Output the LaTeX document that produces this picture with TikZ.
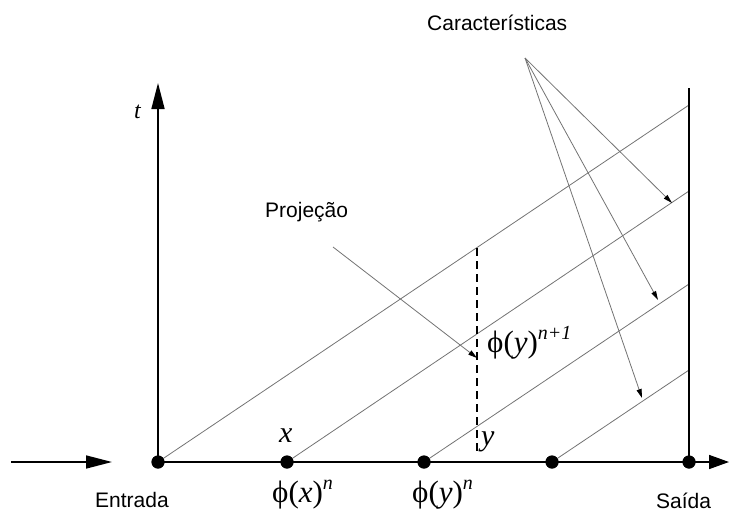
\documentclass[tikz,border=0pt]{standalone}
\usepackage{fontspec}
\setmainfont{Liberation Sans}
\newfontfamily\tms{Liberation Serif}
\usetikzlibrary{arrows.meta}
\begin{document}
\begin{tikzpicture}[x=1pt,y=-1pt,
  axisline/.style={line width=1.6pt,black},
  charline/.style={line width=0.8pt,black!55},
  bigtip/.style={-{Triangle[length=26pt,width=13pt]}},
  endtip/.style={-{Triangle[length=20pt,width=14pt]}},
  smalltip/.style={-{Triangle[length=9pt,width=5pt,color=black]}},
  dotnode/.style={circle,fill=black,inner sep=0pt,minimum size=13pt},
  lbl/.style={font=\fontsize{21}{24}\selectfont,inner sep=0pt,anchor=base west},
  mlbl/.style={font=\tms\fontsize{31}{34}\selectfont,inner sep=0pt,anchor=base west},
  vlbl/.style={font=\tms\itshape\fontsize{30}{34}\selectfont,inner sep=0pt,anchor=base west},
]
\useasboundingbox (0,0) rectangle (730,511);
\newcommand{\supr}[1]{\raisebox{13pt}{\fontsize{20}{22}\selectfont\itshape #1}}

% points on the axis
\node[dotnode] (d1) at (158,462) {};
\node[dotnode] (d2) at (287,462) {};
\node[dotnode] (d3) at (424,462) {};
\node[dotnode] (d4) at (552,462) {};
\node[dotnode] (d5) at (689,462) {};

\coordinate (inL) at (11,462);
\coordinate (inR) at (112,462);
\coordinate (outR) at (729,462);
\coordinate (ttop) at (158,83);
\coordinate (rtop) at (689,88);
\coordinate (e1) at (689,105);
\coordinate (e2) at (689,191);
\coordinate (e3) at (689,284);
\coordinate (e4) at (689,370);
\coordinate (dtop) at (477,248);
\coordinate (dbot) at (477,455);
\coordinate (po) at (333,247);
\coordinate (pt) at (477,358);
\coordinate (co) at (525,58);
\coordinate (c1) at (672,203);
\coordinate (c2) at (658,300);
\coordinate (c3) at (642,398);

% characteristic lines
\draw[charline] (d1.center) -- (e1);
\draw[charline] (d2.center) -- (e2);
\draw[charline] (d3.center) -- (e3);
\draw[charline] (d4.center) -- (e4);

% pointer arrows
\draw[charline,smalltip] (co) -- (c1);
\draw[charline,smalltip] (co) -- (c2);
\draw[charline,smalltip] (co) -- (c3);
\draw[charline,smalltip] (po) -- (pt);

% projection
\draw[line width=1.3pt,dash pattern=on 8pt off 5pt] (dtop) -- (dbot);

% axes
\draw[axisline,bigtip] (inL) -- (inR);
\draw[axisline,endtip] (d1.center) -- (outR);
\draw[axisline,bigtip] (d1.center) -- (ttop);
\draw[axisline] (d5.center) -- (rtop);

% redraw dots on top
\foreach \n in {d1,d2,d3,d4,d5} \fill (\n) circle (6.5pt);

% labels
\node[lbl] (lcar) at (427,31) {Características};
\node[lbl] (lproj) at (265,217) {Projeção};
\node[lbl] (lent) at (95,507) {Entrada};
\node[lbl] (lsai) at (656,508) {Saída};
\node[vlbl,font=\tms\itshape\fontsize{24}{28}\selectfont] (lt) at (134,118) {t};
\node[vlbl] (lx) at (279,442) {x};
\node[vlbl] (ly) at (481,445) {y};
\node[mlbl] (lpx) at (272,502) {ϕ(\textit{x})\supr{n}};
\node[mlbl] (lpy) at (412,502) {ϕ(\textit{y})\supr{n}};
\node[mlbl] (lpy1) at (487,352) {ϕ(\textit{y})\supr{n+1}};
\end{tikzpicture}
\end{document}
